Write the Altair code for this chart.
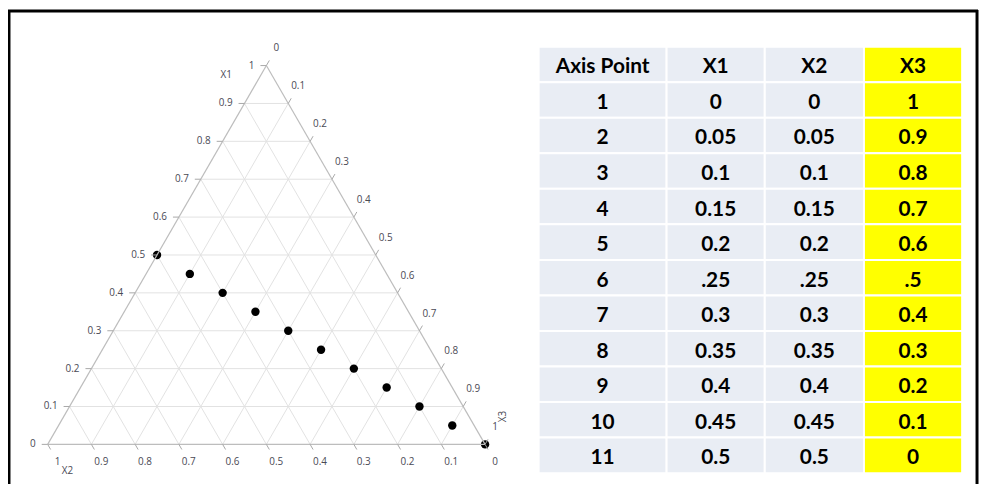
import math
import altair as alt
import pandas as pd

# ---------------- data ----------------
axis_point = [1, 2, 3, 4, 5, 6, 7, 8, 9, 10, 11]
x1_vals = [0, 0.05, 0.1, 0.15, 0.2, 0.25, 0.3, 0.35, 0.4, 0.45, 0.5]
x2_vals = [0, 0.05, 0.1, 0.15, 0.2, 0.25, 0.3, 0.35, 0.4, 0.45, 0.5]
x3_vals = [1, 0.9, 0.8, 0.7, 0.6, 0.5, 0.4, 0.3, 0.2, 0.1, 0]
x1_text = ["0", "0.05", "0.1", "0.15", "0.2", ".25", "0.3", "0.35", "0.4", "0.45", "0.5"]
x2_text = ["0", "0.05", "0.1", "0.15", "0.2", ".25", "0.3", "0.35", "0.4", "0.45", "0.5"]
x3_text = ["1", "0.9", "0.8", "0.7", "0.6", ".5", "0.4", "0.3", "0.2", "0.1", "0"]
headers = ["Axis Point", "X1", "X2", "X3"]
tick_values = [0, 0.1, 0.2, 0.3, 0.4, 0.5, 0.6, 0.7, 0.8, 0.9, 1.0]
tick_labels = ["0", "0.1", "0.2", "0.3", "0.4", "0.5", "0.6", "0.7", "0.8", "0.9", "1"]
grid_levels = [0.1, 0.2, 0.3, 0.4, 0.5, 0.6, 0.7, 0.8, 0.9]

# ---------------- layout ----------------
W, H = 980, 478
S = math.sqrt(3) / 2
PX = 441.0                      # pixels per ternary unit
U_RANGE = [40, 481]
V_RANGE = [438, 438 - PX * S]
TICK_LEN = 6 / PX
LABEL_OFF = 20 / PX
LEFT_LABEL_OFF = 12 / PX

xs = alt.Scale(domain=[0, 1], range=U_RANGE, nice=False, zero=False)
ys = alt.Scale(domain=[0, S], range=V_RANGE, nice=False, zero=False)


def tern(a1, a2, a3):
    return a3 + a1 / 2.0, a1 * S


# grid lines
grid_rows = []
for k in grid_levels:
    u0, v0 = tern(k, 1 - k, 0)
    u1, v1 = tern(k, 0, 1 - k)
    grid_rows.append(dict(u=u0, v=v0, u2=u1, v2=v1))
    u0, v0 = tern(0, k, 1 - k)
    u1, v1 = tern(1 - k, k, 0)
    grid_rows.append(dict(u=u0, v=v0, u2=u1, v2=v1))
    u0, v0 = tern(0, 1 - k, k)
    u1, v1 = tern(1 - k, 0, k)
    grid_rows.append(dict(u=u0, v=v0, u2=u1, v2=v1))
grid_df = pd.DataFrame(grid_rows)

corner_a = tern(1, 0, 0)
corner_b = tern(0, 1, 0)
corner_c = tern(0, 0, 1)
edge_df = pd.DataFrame([
    dict(u=corner_b[0], v=corner_b[1], u2=corner_c[0], v2=corner_c[1]),
    dict(u=corner_b[0], v=corner_b[1], u2=corner_a[0], v2=corner_a[1]),
    dict(u=corner_a[0], v=corner_a[1], u2=corner_c[0], v2=corner_c[1]),
])

tick_rows, lab_left, lab_other = [], [], []
for val, lab in zip(tick_values, tick_labels):
    u, v = tern(val, 1 - val, 0)
    tick_rows.append(dict(u=u, v=v, u2=u - TICK_LEN, v2=v))
    lab_left.append(dict(u=u - LEFT_LABEL_OFF, v=v, t=lab))
    u, v = tern(0, val, 1 - val)
    tick_rows.append(dict(u=u, v=v, u2=u + 0.5 * TICK_LEN, v2=v - S * TICK_LEN))
    lab_other.append(dict(u=u + 0.5 * LABEL_OFF, v=v - S * LABEL_OFF, t=lab))
    u, v = tern(1 - val, 0, val)
    tick_rows.append(dict(u=u, v=v, u2=u + 0.5 * TICK_LEN, v2=v + S * TICK_LEN))
    lab_other.append(dict(u=u + 0.5 * LABEL_OFF, v=v + S * LABEL_OFF, t=lab))
tick_df = pd.DataFrame(tick_rows)
lab_left_df = pd.DataFrame(lab_left)
lab_other_df = pd.DataFrame(lab_other)

pts = [tern(a, b, c) for a, b, c in zip(x1_vals, x2_vals, x3_vals)]
pts_df = pd.DataFrame(dict(u=[p[0] for p in pts], v=[p[1] for p in pts]))

X = alt.X("u:Q", scale=xs, axis=None)
Y = alt.Y("v:Q", scale=ys, axis=None)

LBL = dict(fontSize=10, font="Open Sans", color="#4a4a55")

grid = alt.Chart(grid_df).mark_rule(color="#e2e2e2", strokeWidth=1).encode(
    x=X, y=Y, x2="u2:Q", y2="v2:Q")
points = alt.Chart(pts_df).mark_circle(color="black", opacity=1, size=72).encode(x=X, y=Y)
edges = alt.Chart(edge_df).mark_rule(color="#bdbdbd", strokeWidth=1.2).encode(
    x=X, y=Y, x2="u2:Q", y2="v2:Q")
ticks = alt.Chart(tick_df).mark_rule(color="#a8a8a8", strokeWidth=1).encode(
    x=X, y=Y, x2="u2:Q", y2="v2:Q")
labels_left = alt.Chart(lab_left_df).mark_text(
    align="right", baseline="middle", **LBL).encode(x=X, y=Y, text="t:N")
labels_other = alt.Chart(lab_other_df).mark_text(
    align="center", baseline="middle", **LBL).encode(x=X, y=Y, text="t:N")

title_x1 = alt.Chart(pd.DataFrame(dict(t=["X1"]))).mark_text(**LBL).encode(
    x=alt.value(220), y=alt.value(66), text="t:N")
title_x2 = alt.Chart(pd.DataFrame(dict(t=["X2"]))).mark_text(**LBL).encode(
    x=alt.value(60), y=alt.value(465), text="t:N")
title_x3 = alt.Chart(pd.DataFrame(dict(t=["X3"]))).mark_text(angle=270, **LBL).encode(
    x=alt.value(499), y=alt.value(410), text="t:N")

ternary = alt.layer(grid, points, edges, ticks, labels_left, labels_other,
                    title_x1, title_x2, title_x3)

# ---------------- table ----------------
COL_W = [129, 99, 100, 99]
edges_x = [0]
for w in COL_W:
    edges_x.append(edges_x[-1] + w)
table_rows = []
body = [[str(a) for a in axis_point], x1_text, x2_text, x3_text]
for ci, name in enumerate(headers):
    cells = [name] + body[ci]
    for ri, txt in enumerate(cells):
        table_rows.append(dict(col=name, r0=ri, r1=ri + 1, rm=ri + 0.5,
                               c0=edges_x[ci], c1=edges_x[ci + 1],
                               cm=(edges_x[ci] + edges_x[ci + 1]) / 2, t=txt))
table_df = pd.DataFrame(table_rows)

tx = alt.Scale(domain=[0, edges_x[-1]], range=[535, 962], nice=False, zero=False)
ty = alt.Scale(domain=[0, 12], range=[37, 467], nice=False, zero=False)

cells = alt.Chart(table_df).mark_rect(stroke="white", strokeWidth=2).encode(
    x=alt.X("c0:Q", scale=tx, axis=None), x2="c1:Q",
    y=alt.Y("r0:Q", scale=ty, axis=None), y2="r1:Q",
    fill=alt.condition(alt.datum.col == "X3", alt.value("#ffff00"), alt.value("#e9edf4")),
)
cell_text = alt.Chart(table_df).mark_text(
    font="Lato", fontWeight="bold", fontSize=21, color="black", baseline="middle", dy=3
).encode(
    x=alt.X("cm:Q", scale=tx, axis=None),
    y=alt.Y("rm:Q", scale=ty, axis=None),
    text="t:N",
)
table = alt.layer(cells, cell_text)

# ---------------- frame ----------------
frame_top = alt.Chart(pd.DataFrame(dict(a=[0]))).mark_rule(color="black", strokeWidth=3).encode(
    x=alt.value(0), x2=alt.value(978), y=alt.value(1), y2=alt.value(1))
frame_left = alt.Chart(pd.DataFrame(dict(a=[0]))).mark_rule(color="black", strokeWidth=3).encode(
    x=alt.value(1), y=alt.value(0), y2=alt.value(H))
frame_right = alt.Chart(pd.DataFrame(dict(a=[0]))).mark_rule(color="black", strokeWidth=3).encode(
    x=alt.value(977), y=alt.value(0), y2=alt.value(H))

chart = alt.layer(ternary, table, frame_top, frame_left, frame_right).resolve_scale(
    x="independent", y="independent"
).properties(
    width=W, height=H, autosize=alt.AutoSizeParams(type="none"), padding=0,
    background="white",
).configure_view(stroke=None)

chart.save("out.html", embed_options={"renderer": "svg", "actions": False})
